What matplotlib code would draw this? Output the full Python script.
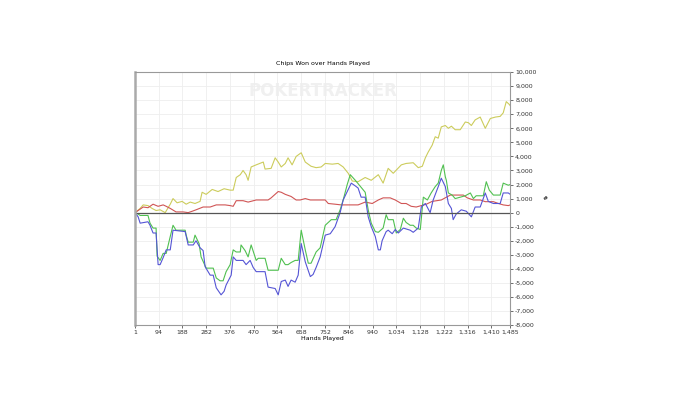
import matplotlib
matplotlib.use('Agg')

import matplotlib.pyplot as plt
from matplotlib.ticker import FuncFormatter, MultipleLocator
import numpy as np

# Chart data (hand number -> cumulative chips)
px_to_hand = lambda xs: [round(1 + (x - 135) * 1484 / 375) for x in xs]

yellow_px = [135, 140, 143, 148, 152, 156, 160, 165, 170, 173, 177, 182, 186, 190, 195, 200, 202, 206,
             212, 218, 224, 230, 233, 236, 240, 243, 246, 248, 251, 256, 263, 265, 271, 275, 278, 281,
             285, 288, 292, 296, 301, 305, 311, 316, 321, 325, 332, 338, 343, 348, 352, 358, 365, 371,
             378, 383, 388, 393, 397, 401, 406, 413, 418, 422, 425, 428, 432, 435, 438, 441, 445, 448,
             451, 455, 460, 465, 468, 471, 475, 480, 485, 490, 495, 500, 503, 506, 509, 510]
yellow_chips = [0, 300, 550, 500, 300, 150, 200, 0, 600, 1000, 700, 800, 600, 750, 650, 800, 1450, 1300,
                1650, 1500, 1700, 1600, 1600, 2500, 2700, 3000, 2700, 2300, 3250, 3400, 3600, 3100, 3150,
                3900, 3600, 3250, 3500, 3900, 3400, 4000, 4260, 3600, 3300, 3200, 3250, 3500, 3450, 3500,
                3250, 2800, 2250, 2200, 2500, 2300, 2700, 2100, 3150, 2800, 3100, 3400, 3500, 3550, 3200,
                3300, 3900, 4300, 4800, 5400, 5300, 6100, 6200, 6000, 6150, 5900, 5900, 6450, 6400, 6200,
                6600, 6800, 6000, 6700, 6800, 6850, 7100, 7900, 7700, 7600]

red_px = [135, 140, 143, 148, 153, 158, 163, 166, 170, 176, 183, 188, 192, 196, 203, 210, 216, 225, 230,
          233, 236, 243, 248, 256, 263, 268, 271, 278, 281, 285, 291, 296, 300, 305, 310, 318, 325, 328,
          335, 341, 350, 358, 365, 372, 378, 383, 390, 395, 401, 406, 411, 416, 421, 426, 432, 441, 450,
          457, 463, 467, 473, 480, 485, 493, 498, 503, 508, 510]
red_chips = [0, 250, 400, 350, 600, 450, 550, 450, 300, 50, 50, 0, 100, 200, 400, 400, 550, 550, 500,
             450, 850, 850, 750, 900, 900, 900, 1050, 1500, 1450, 1300, 1150, 900, 900, 1000, 900, 900,
             900, 650, 600, 550, 550, 550, 750, 650, 900, 1050, 1050, 900, 650, 650, 450, 400, 500, 600,
             800, 900, 1250, 1250, 1250, 1050, 900, 900, 780, 780, 650, 550, 500, 550]

green_px = [135, 138, 140, 148, 150, 153, 156, 157, 160, 163, 166, 170, 173, 176, 185, 186, 188, 193,
            195, 199, 201, 206, 213, 216, 220, 223, 226, 230, 233, 236, 240, 241, 245, 248, 251, 256,
            258, 265, 268, 278, 281, 285, 288, 291, 295, 298, 301, 305, 308, 311, 316, 320, 325, 331,
            336, 340, 343, 347, 350, 355, 361, 365, 368, 371, 375, 378, 383, 386, 388, 393, 396, 400,
            403, 406, 410, 413, 416, 420, 423, 427, 431, 435, 438, 441, 443, 445, 446, 448, 452, 455,
            460, 465, 470, 473, 476, 483, 486, 489, 493, 500, 503, 508, 510]
green_chips = [0, -100, -200, -200, -750, -1100, -1100, -3100, -3400, -2900, -2900, -1700, -900, -1250,
               -1250, -1600, -2100, -2100, -1600, -2200, -3150, -3950, -3950, -4650, -4850, -4850, -4200,
               -3700, -2650, -2800, -2800, -2300, -2700, -3150, -2300, -3400, -3250, -3250, -4100, -4100,
               -3250, -3700, -3700, -3550, -3400, -3400, -1250, -2650, -3600, -3600, -2800, -2500, -900,
               -500, -500, 200, 900, 2000, 2700, 2300, 1800, 1450, 200, -750, -1350, -1400, -1100, -150,
               -500, -500, -1450, -1200, -400, -700, -900, -900, -1100, -1200, 1100, 900, 1400, 1850, 2100,
               3000, 3400, 2550, 2300, 1400, 1250, 1000, 1100, 1200, 1400, 1000, 1200, 1200, 2200, 1600,
               1250, 1250, 2100, 1950, 2000]

blue_px = [135, 138, 140, 148, 150, 153, 156, 158, 160, 163, 166, 170, 173, 185, 188, 193, 196, 200,
           203, 205, 210, 213, 216, 221, 224, 226, 231, 233, 236, 243, 246, 250, 253, 256, 265, 268,
           275, 278, 281, 285, 288, 291, 295, 298, 301, 305, 310, 313, 316, 320, 325, 330, 335, 340,
           343, 347, 351, 355, 358, 361, 365, 368, 371, 375, 378, 380, 382, 386, 388, 392, 395, 398,
           403, 410, 413, 418, 421, 425, 430, 433, 438, 441, 445, 448, 451, 453, 456, 461, 466, 471,
           475, 480, 485, 488, 493, 500, 503, 508, 510]
blue_chips = [0, -300, -750, -650, -900, -1450, -1450, -3700, -3700, -3200, -2650, -2650, -1250, -1350,
              -2300, -2300, -2000, -2500, -2700, -3850, -4450, -4450, -5350, -5850, -5600, -5150, -4450,
              -3150, -3400, -3400, -3700, -3400, -3900, -4200, -4200, -5300, -5400, -5850, -4900, -4800,
              -5250, -4800, -4950, -4450, -2200, -3500, -4550, -4400, -3900, -3150, -1600, -1500, -1000,
              0, 900, 1500, 2100, 1900, 1750, 1100, 1100, -300, -1000, -1700, -2650, -2650, -2000, -1350,
              -1250, -1500, -1200, -1450, -1100, -1250, -1400, -1100, 400, 650, 0, 900, 1850, 2450, 1850,
              650, 300, -500, -100, 200, 100, -300, 400, 400, 1400, 800, 650, 650, 1400, 1400, 1300]

x_ticks = [1, 94, 188, 282, 376, 470, 564, 658, 752, 846, 940, 1034, 1128, 1222, 1316, 1410, 1485]

fig = plt.figure(figsize=(7, 3.94), dpi=100)
ax = fig.add_axes([0.193, 0.175, 0.536, 0.642])

ax.plot(px_to_hand(yellow_px), yellow_chips, color='#cccc5c', linewidth=0.8)
ax.plot(px_to_hand(red_px), red_chips, color='#d05555', linewidth=0.8)
ax.plot(px_to_hand(green_px), green_chips, color='#50c050', linewidth=0.8)
ax.plot(px_to_hand(blue_px), blue_chips, color='#5555d5', linewidth=0.8)
ax.axhline(0, color='#555555', linewidth=0.9)

ax.set_xlim(1, 1485)
ax.set_ylim(-8000, 10000)
ax.set_xticks(x_ticks)
ax.xaxis.set_major_formatter(FuncFormatter(lambda v, p: f'{int(v):,}'))
ax.yaxis.set_major_locator(MultipleLocator(1000))
ax.yaxis.set_major_formatter(FuncFormatter(lambda v, p: f'{int(v):,}'))
ax.yaxis.tick_right()
ax.yaxis.set_label_position('right')
ax.tick_params(labelsize=4.5, length=2, width=0.5, colors='#333333', pad=1.5)

ax.grid(True, color='#eeeeee', linewidth=0.6)
ax.set_axisbelow(True)
for side in ['top', 'right', 'bottom']:
    ax.spines[side].set_color('#999999')
    ax.spines[side].set_linewidth(0.8)
ax.spines['left'].set_color('#aaaaaa')
ax.spines['left'].set_linewidth(1.8)

ax.set_title('Chips Won over Hands Played', fontsize=4.5, pad=5)
ax.set_xlabel('Hands Played', fontsize=4.5, labelpad=1)
ax.set_ylabel('#', fontsize=4.5, rotation=0, labelpad=6, va='center')

# faint watermark
ax.text(0.5, 0.925, 'POKERTRACKER', transform=ax.transAxes, ha='center', va='center',
        fontsize=12, fontweight='bold', color='#f0f0f0', zorder=0)

plt.savefig('out.png', dpi=100)
plt.close()
